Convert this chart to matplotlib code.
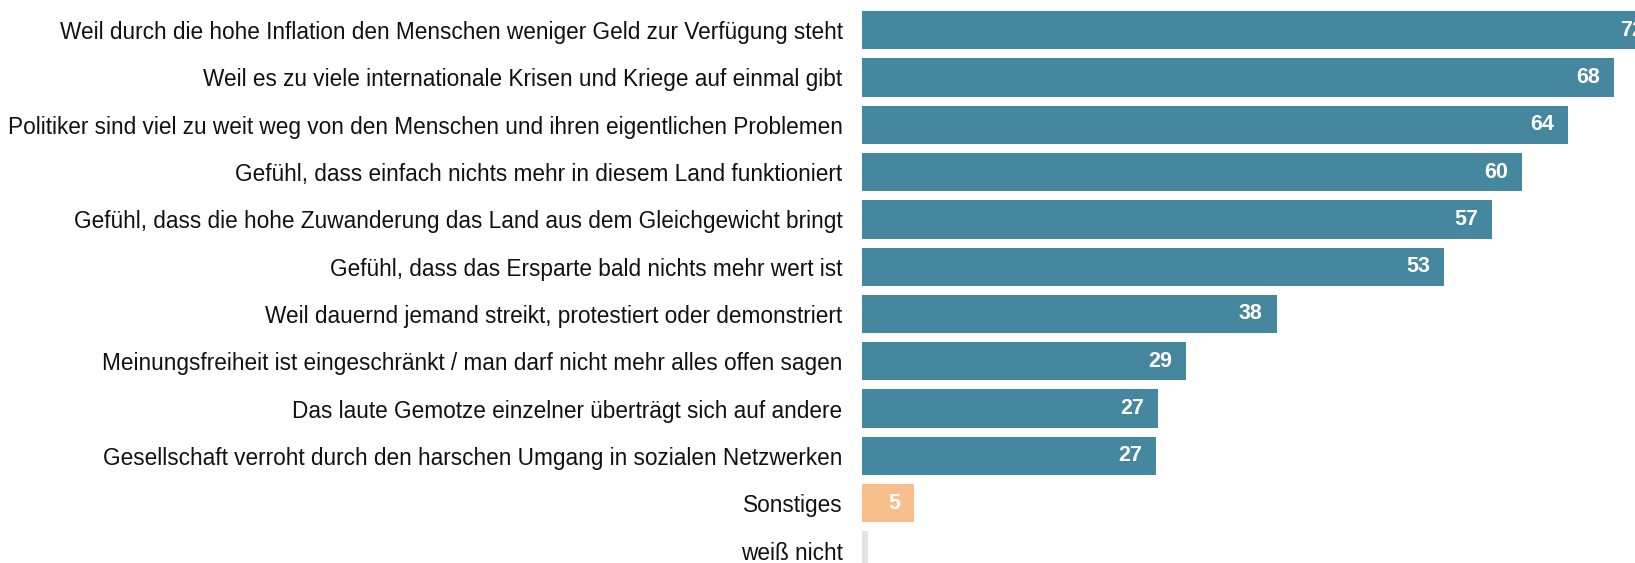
import matplotlib
matplotlib.use('Agg')
import matplotlib.pyplot as plt

# Data
labels = [
    'Weil durch die hohe Inflation den Menschen weniger Geld zur Verfügung steht',
    'Weil es zu viele internationale Krisen und Kriege auf einmal gibt',
    'Politiker sind viel zu weit weg von den Menschen und ihren eigentlichen Problemen',
    'Gefühl, dass einfach nichts mehr in diesem Land funktioniert',
    'Gefühl, dass die hohe Zuwanderung das Land aus dem Gleichgewicht bringt',
    'Gefühl, dass das Ersparte bald nichts mehr wert ist',
    'Weil dauernd jemand streikt, protestiert oder demonstriert',
    'Meinungsfreiheit ist eingeschränkt / man darf nicht mehr alles offen sagen',
    'Das laute Gemotze einzelner überträgt sich auf andere',
    'Gesellschaft verroht durch den harschen Umgang in sozialen Netzwerken',
    'Sonstiges',
    'weiß nicht',
]
values = [72, 68, 63.8, 59.7, 57.0, 52.6, 37.5, 29.3, 26.8, 26.6, 4.7, 0.5]
value_labels = ['72', '68', '64', '60', '57', '53', '38', '29', '27', '27', '5', '']
colors = ['#45879e'] * 10 + ['#f8bf8c', '#e4e4e4']

W, H = 1635, 563
fig = plt.figure(figsize=(W / 100, H / 100), dpi=100)
x0 = 862
ax = fig.add_axes([x0 / W, 0, (W - x0) / W, 1])

px_per_unit = 11.06
pitch = 47.3
top_c = 30.2
ax.set_xlim(0, (W - x0) / px_per_unit)
ax.set_ylim((H - top_c) / pitch, -top_c / pitch)

ypos = list(range(len(labels)))
ax.barh(ypos, values, height=0.81, color=colors)

for y, v, lab in zip(ypos, values, value_labels):
    if lab:
        ax.annotate(lab, xy=(v, y), xytext=(-14, 0), textcoords='offset pixels',
                    ha='right', va='center', color='white', fontsize=15.5,
                    fontweight='bold', family='Liberation Sans', annotation_clip=False)

ax.set_yticks(ypos)
ax.set_yticklabels(labels, fontsize=16.3, family='Liberation Sans', color='#111111')
ax.tick_params(axis='y', length=0, pad=14)
ax.tick_params(axis='x', bottom=False, labelbottom=False)
for s in ax.spines.values():
    s.set_visible(False)

fig.savefig('out.png', dpi=100, facecolor='white')
